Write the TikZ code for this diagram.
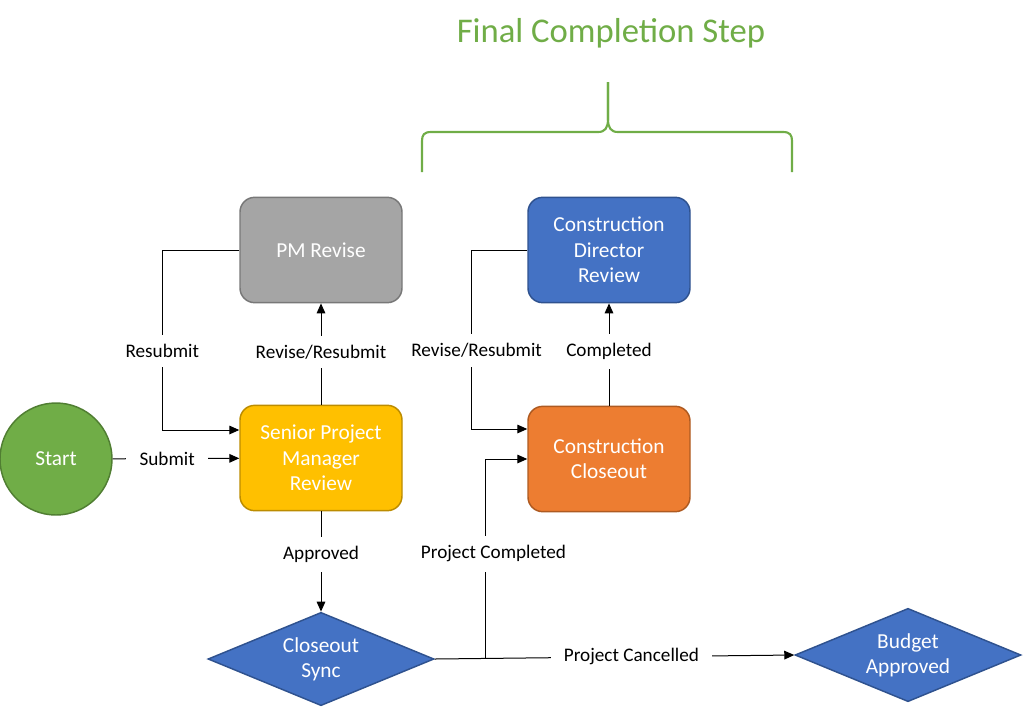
\documentclass[tikz,border=0pt]{standalone}
\usepackage{fontspec}
\setmainfont{Carlito}
\usetikzlibrary{shapes.geometric,arrows.meta,calc}
\definecolor{cgreen}{HTML}{70AD47}
\definecolor{cgreend}{HTML}{507E32}
\definecolor{cyellow}{HTML}{FFC000}
\definecolor{cyellowd}{HTML}{BC8C00}
\definecolor{cgray}{HTML}{A5A5A5}
\definecolor{cgrayd}{HTML}{787878}
\definecolor{cblue}{HTML}{4472C4}
\definecolor{cblued}{HTML}{2F528F}
\definecolor{corange}{HTML}{ED7D31}
\definecolor{coranged}{HTML}{AE5A21}
\begin{document}
\begin{tikzpicture}[x=0.75pt,y=-0.75pt,
  box/.style={rectangle, rounded corners=11pt, minimum width=121.5pt, minimum height=79pt,
    text=white, align=center, font=\fontsize{16}{19}\selectfont, line width=1.1pt},
  dia/.style={diamond, aspect=2.43, inner sep=0pt, minimum width=169.5pt, minimum height=70pt,
    fill=cblue, draw=cblued, line width=1.1pt, text=white, align=center, font=\fontsize{16}{19}\selectfont},
  lbl/.style={fill=white, font=\fontsize{14.4}{17}\selectfont, inner xsep=5pt, inner ysep=7pt},
  arr/.style={-{Triangle[length=7.5pt,width=6.5pt]}, line width=0.75pt},
  brace/.style={cgreen, line width=1.6pt}]
\useasboundingbox (0,0) rectangle (1024,708);

\node[text=cgreen, font=\fontsize{26}{31}\selectfont] (title) at (611,33) {Final Completion Step};
\coordinate (apex) at (608,82);
\draw[brace] (422,172) -- (422,141) .. controls (422,135) and (424,132) .. (431,132) -- (598,132)
  .. controls (605,132) and (608,128) .. (608,119) -- (apex);
\draw[brace] (792,172) -- (792,141) .. controls (792,135) and (790,132) .. (783,132) -- (618,132)
  .. controls (611,132) and (608,128) .. (608,119) -- (apex);

\node[circle, fill=cgreen, draw=cgreend, line width=1.1pt, minimum size=84pt, text=white,
  font=\fontsize{16}{19}\selectfont] (start) at (56,459) {Start};
\node[box, fill=cyellow, draw=cyellowd] (spm) at (321,458) {Senior Project\\Manager\\Review};
\node[box, fill=cgray, draw=cgrayd] (pmr) at (321,250) {PM Revise};
\node[box, fill=cblue, draw=cblued] (cdr) at (609,250) {Construction\\Director\\Review};
\node[box, fill=corange, draw=coranged] (cc) at (609,459) {Construction\\Closeout};
\node[dia] (cs) at (321,659) {Closeout\\Sync};
\node[dia] (ba) at (908,655) {Budget\\Approved};

\draw[arr] (start) -- node[lbl,pos=0.43,inner xsep=10pt]{Submit} (spm);
\draw[arr] (spm) -- node[lbl,pos=0.52]{Revise/Resubmit} (pmr);
\draw[arr] (pmr.west) -- ++(-77,0) |- node[lbl,pos=0.28]{Resubmit} ($(spm.west)+(0,-28)$);
\draw[arr] (spm) -- node[lbl,pos=0.43]{Approved} (cs);
\draw[arr] (cs.east) -- node[lbl,pos=0.547,inner xsep=10pt]{Project Cancelled} (ba.west);
\coordinate (j) at ($(cs.east)!0.141!(ba.west)$);
\draw[arr] (j) |- node[lbl,pos=0.262,xshift=6pt]{Project Completed} (cc.west);
\draw[arr] (cc) -- node[lbl,pos=0.53]{Completed} (cdr);
\draw[arr] (cdr.west) -- ++(-56,0) |- node[lbl,pos=0.28,xshift=4pt]{Revise/Resubmit} ($(cc.west)+(0,-30)$);
\end{tikzpicture}
\end{document}
